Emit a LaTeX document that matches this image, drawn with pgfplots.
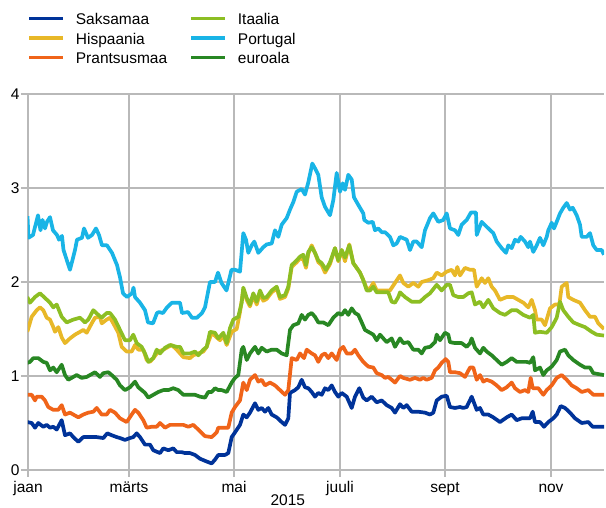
\documentclass[border=0pt]{standalone}
\usepackage{fontspec}
\setmainfont{Liberation Sans}
\usepackage{pgfplots}
\pgfplotsset{compat=1.18}
\definecolor{saks}{RGB}{0,51,153}
\definecolor{hisp}{RGB}{232,184,40}
\definecolor{pran}{RGB}{240,100,25}
\definecolor{ital}{RGB}{140,190,35}
\definecolor{port}{RGB}{25,180,230}
\definecolor{euro}{RGB}{40,135,35}
\definecolor{gridgray}{RGB}{185,185,185}
\begin{document}
\begin{tikzpicture}[font=\fontsize{15.5}{18}\selectfont]
\begin{axis}[
  at={(0,0)}, anchor=south west,
  scale only axis, width=576pt, height=376pt,
  xmin=28, xmax=604, ymin=0, ymax=4,
  axis x line*=bottom, axis y line*=left,
  axis line style={-, gridgray, line width=1.3pt},
  xtick={28,129,234,340,445,551},
  xticklabels={jaan,märts,mai,juuli,sept,nov},
  ytick={0,1,2,3,4},
  grid=major,
  major grid style={gridgray, line width=1.3pt},
  tick align=outside, major tick length=7pt,
  tick style={gridgray, line width=1.3pt},
  /pgf/number format/assume math mode=true,
  tick label style={font=\fontsize{15.5}{18}\selectfont},
  xticklabel style={anchor=base, yshift=-16pt},
  yticklabel style={xshift=2pt},
  xlabel={2015},
  xlabel style={at={(axis description cs:0.451,0)}, anchor=base, yshift=-36pt},
  every axis plot/.append style={line width=3.7pt, line join=round},
  legend columns=3, transpose legend,
  legend cell align=left,
  legend image code/.code={\draw[#1] (0pt,4.5pt) -- (34pt,4.5pt);},
  legend style={at={(axis description cs:0,1)}, anchor=south west,
    xshift=-1pt, yshift=22pt, draw=none, fill=none, inner sep=0pt,
    row sep=0pt,
    nodes={inner sep=0pt, text height=11.5pt, text depth=8pt},
    /tikz/every odd column/.append style={column sep=11pt},
    /tikz/every even column/.append style={column sep=22pt},
    font=\fontsize{15.5}{18}\selectfont},
]
% Saksamaa
\addplot[saks] coordinates {(27.3,0.51)(31.7,0.50)(35,0.45)(38.3,0.50)(43.3,0.46)(46.7,0.48)(50,0.45)(53.3,0.46)(56.7,0.43)(61.7,0.53)(65,0.37)(70,0.39)(73.3,0.35)(78.3,0.30)(83.3,0.35)(88.3,0.35)(96.7,0.35)(103.3,0.34)(107.3,0.39)(111.7,0.37)(116.7,0.35)(120,0.34)(125,0.32)(130,0.34)(133.3,0.35)(136.7,0.39)(140,0.35)(145,0.27)(150,0.27)(153.3,0.21)(160,0.18)(163.3,0.23)(168.3,0.21)(173.3,0.23)(176.7,0.19)(181.7,0.19)(185,0.18)(190,0.18)(195,0.16)(200,0.12)(206.7,0.09)(211.7,0.07)(215,0.11)(218.3,0.16)(225,0.16)(228.3,0.18)(231.7,0.35)(235,0.40)(240,0.48)(243.3,0.59)(246.7,0.56)(250,0.61)(255,0.71)(258.3,0.64)(261.7,0.66)(265,0.62)(268.3,0.66)(271.7,0.59)(276.7,0.56)(281.7,0.51)(285,0.48)(288.3,0.55)(290,0.82)(295,0.85)(298.3,0.88)(301.7,0.96)(305,0.88)(308.3,0.87)(311.7,0.83)(315,0.78)(318.3,0.82)(321.7,0.80)(325,0.87)(328.3,0.85)(331.7,0.90)(335,0.83)(338.3,0.78)(341.7,0.82)(346.7,0.78)(351.7,0.66)(355,0.78)(359.3,0.87)(363.3,0.77)(366.7,0.74)(371.7,0.78)(376.7,0.72)(381.7,0.74)(386.7,0.69)(391.7,0.66)(395,0.61)(400,0.70)(403.3,0.66)(406.7,0.69)(411.7,0.62)(418.3,0.62)(425,0.61)(430,0.59)(433.3,0.61)(436.7,0.74)(441.7,0.78)(446.7,0.79)(450,0.67)(455,0.66)(460,0.67)(463.3,0.66)(466.7,0.67)(471.7,0.78)(476.7,0.64)(480,0.66)(483.3,0.59)(488.3,0.59)(493.3,0.56)(500,0.51)(506.7,0.56)(511.7,0.59)(516.7,0.53)(521.7,0.55)(526.7,0.55)(530,0.55)(532.7,0.62)(535,0.51)(540,0.51)(544,0.46)(548.3,0.51)(553.3,0.55)(556.7,0.59)(560.7,0.68)(565,0.66)(570,0.61)(575,0.55)(581.7,0.50)(588.3,0.51)(592.7,0.46)(604,0.46)};
\addlegendentry{Saksamaa}
% Hispaania
\addplot[hisp] coordinates {(27.3,1.47)(31.7,1.63)(36.7,1.70)(40,1.73)(43.3,1.70)(46.7,1.62)(50,1.60)(53.3,1.52)(55,1.47)(58.3,1.52)(61.7,1.41)(65,1.35)(70,1.40)(75,1.44)(80,1.47)(83.3,1.49)(86.7,1.46)(91.7,1.56)(95,1.62)(100,1.63)(101.7,1.56)(106.7,1.60)(110,1.62)(113.3,1.56)(118.3,1.46)(121.7,1.31)(126.7,1.26)(131.7,1.26)(135,1.33)(138.3,1.28)(143.3,1.28)(146.7,1.17)(150,1.15)(153.3,1.19)(158.3,1.26)(163.3,1.28)(168.3,1.31)(171.7,1.33)(176.7,1.28)(183.3,1.20)(190,1.19)(193.3,1.22)(198.3,1.24)(203.3,1.26)(206.7,1.31)(211.7,1.46)(216.7,1.41)(220,1.38)(223.3,1.43)(226.7,1.33)(231.7,1.47)(236.7,1.50)(240,1.68)(243.3,1.92)(246.7,1.81)(250,1.74)(253.3,1.86)(256.7,1.76)(260,1.88)(263.3,1.80)(266.7,1.82)(271.7,1.89)(276.7,1.93)(280,1.82)(285,1.84)(288.3,1.93)(291.7,2.16)(296.7,2.21)(300,2.25)(303.3,2.24)(306,2.15)(308.3,2.30)(311.7,2.39)(315,2.31)(318.3,2.21)(321.7,2.18)(325,2.10)(330,2.19)(335,2.36)(338.3,2.22)(341.7,2.34)(345,2.22)(349.3,2.40)(353.3,2.20)(356.7,2.15)(360,2.10)(363.3,2.02)(366.7,1.93)(370,1.93)(373.3,1.99)(376.7,1.91)(381.7,1.91)(388.3,1.91)(390,1.91)(395,1.99)(400,2.07)(403.3,1.99)(408.3,1.95)(413.3,1.99)(418.3,1.95)(421.7,2.00)(428.3,2.02)(433.3,2.04)(436.7,2.10)(441.7,2.07)(446.7,2.11)(451.7,2.13)(455,2.07)(457.3,2.16)(460,2.07)(465,2.15)(470,2.13)(474,2.13)(476.7,1.95)(481.7,2.04)(485,1.99)(488.3,2.04)(491.7,1.95)(495,1.91)(500,1.81)(506.7,1.84)(513.3,1.84)(518.3,1.81)(523.3,1.78)(528.3,1.73)(531.7,1.81)(535,1.70)(536.7,1.60)(541.7,1.60)(545,1.54)(550,1.72)(555,1.76)(559.3,1.76)(561.7,1.95)(566.7,1.99)(568.3,1.84)(573.3,1.81)(580,1.78)(585,1.70)(590,1.63)(595,1.63)(598.3,1.56)(604,1.50)};
\addlegendentry{Hispaania}
% Prantsusmaa
\addplot[pran] coordinates {(27.3,0.80)(31.7,0.80)(35,0.74)(36.7,0.78)(41.7,0.78)(45,0.74)(48.3,0.67)(53.3,0.64)(58.3,0.64)(61.7,0.69)(65,0.59)(70,0.61)(73.3,0.59)(78.3,0.56)(83.3,0.59)(88.3,0.61)(93.3,0.62)(96.7,0.66)(101.7,0.59)(106.7,0.59)(110,0.64)(115,0.61)(120,0.55)(126.7,0.51)(131.7,0.59)(135,0.64)(138.3,0.61)(143.3,0.53)(146.7,0.45)(151.7,0.46)(156.7,0.46)(160,0.50)(165,0.45)(170,0.48)(176.7,0.48)(183.3,0.48)(188.3,0.46)(193.3,0.48)(198.3,0.43)(205,0.36)(211.7,0.35)(216.7,0.40)(218.3,0.45)(225,0.45)(228.3,0.45)(231.7,0.61)(235,0.67)(240,0.74)(243.3,0.93)(246.7,0.85)(250,0.96)(255,1.01)(258.3,0.94)(261.7,0.96)(265,0.90)(270,0.93)(275,0.90)(280,0.85)(285,0.80)(288.3,0.85)(291.7,1.19)(296.7,1.17)(300,1.24)(304,1.19)(306.7,1.28)(311.7,1.24)(315,1.22)(318.3,1.15)(321.7,1.22)(325,1.24)(328.3,1.19)(331.7,1.24)(336.7,1.17)(340,1.28)(343.3,1.31)(346.7,1.24)(351.7,1.24)(355,1.28)(358.3,1.22)(363.3,1.15)(368.3,1.10)(373.3,1.09)(376.7,1.03)(381.7,1.01)(385,0.98)(388.3,0.99)(391.7,0.96)(395,0.93)(400,1.00)(403.3,0.98)(410,0.96)(415,0.98)(420,0.96)(423.3,0.98)(426.7,0.96)(431.7,0.98)(435,1.06)(438.3,1.09)(441.7,1.14)(445.7,1.18)(448.3,1.15)(450,1.04)(455,1.04)(460,1.03)(465,0.99)(470,1.09)(473.3,1.09)(476.7,0.96)(480,1.01)(483.3,0.94)(486.7,0.96)(491.7,0.94)(496.7,0.90)(501.7,0.85)(506.7,0.88)(511.7,0.93)(515,0.87)(520,0.83)(525,0.85)(528.3,0.83)(530.7,0.98)(532.7,0.87)(538.3,0.87)(543.3,0.80)(546.7,0.85)(551.7,0.90)(556.7,0.98)(561.7,1.01)(566.7,0.96)(571.7,0.90)(576.7,0.87)(581.7,0.83)(588.3,0.85)(593.3,0.80)(604,0.80)};
\addlegendentry{Prantsusmaa}
% Itaalia
\addplot[ital] coordinates {(27.3,1.84)(30,1.78)(35,1.84)(40,1.88)(45,1.83)(50,1.78)(53.3,1.73)(56.7,1.76)(61.7,1.63)(66.7,1.57)(73.3,1.60)(80,1.62)(85,1.57)(88.3,1.60)(93.3,1.70)(98.3,1.65)(101.7,1.62)(106.7,1.67)(110,1.67)(115,1.60)(120,1.49)(125,1.38)(130,1.38)(133.3,1.44)(136.7,1.35)(141.7,1.31)(145,1.24)(148.3,1.15)(153.3,1.19)(156.7,1.28)(160,1.24)(165,1.30)(170,1.33)(176.7,1.31)(180,1.31)(183.3,1.24)(190,1.24)(195,1.26)(198.3,1.22)(203.3,1.28)(206.7,1.31)(210,1.47)(215,1.46)(218.3,1.40)(223.3,1.46)(226.7,1.35)(230,1.51)(233.3,1.60)(238.3,1.63)(241.7,1.78)(243.3,1.94)(246.7,1.83)(250,1.76)(253.3,1.88)(256.7,1.79)(260,1.91)(263.3,1.83)(266.7,1.84)(271.7,1.91)(276.7,1.95)(280,1.84)(285,1.86)(288.3,1.95)(291.7,2.18)(296.7,2.23)(300,2.27)(303.3,2.29)(306,2.18)(308.3,2.32)(311.7,2.37)(315,2.31)(318.3,2.23)(321.7,2.20)(326,2.13)(330,2.21)(335,2.36)(338.3,2.23)(341.7,2.34)(345,2.26)(349.3,2.39)(353.3,2.20)(356.7,2.15)(360,2.10)(363.3,2.02)(366.7,1.91)(370,1.91)(373.3,1.95)(376.7,1.89)(381.7,1.89)(388.3,1.89)(391.7,1.79)(395,1.78)(398.3,1.84)(400,1.89)(405,1.84)(411.7,1.79)(420,1.79)(425,1.84)(430,1.88)(436.7,1.97)(441.7,1.91)(446.7,1.97)(450,1.97)(453.3,1.86)(458.3,1.84)(463.3,1.84)(468.3,1.88)(471.7,1.89)(475,1.76)(480,1.79)(483.3,1.73)(488.3,1.81)(493.3,1.72)(500,1.67)(505,1.65)(511.7,1.70)(516.7,1.70)(523.3,1.65)(530,1.62)(533.3,1.65)(535,1.46)(540,1.47)(546.7,1.46)(551.7,1.52)(556.7,1.62)(560,1.79)(563.3,1.70)(568.3,1.63)(573.3,1.57)(580,1.54)(585,1.52)(591.7,1.47)(596.7,1.44)(604,1.43)};
\addlegendentry{Itaalia}
% Portugal
\addplot[port] coordinates {(27.5,2.70)(28.5,2.47)(33,2.50)(38,2.71)(40.5,2.55)(42.5,2.66)(45,2.57)(47,2.64)(50,2.69)(53,2.55)(57,2.50)(59,2.45)(62,2.49)(63.5,2.34)(70,2.13)(75,2.34)(77,2.45)(82,2.47)(84,2.57)(88,2.47)(92,2.50)(96,2.57)(99,2.50)(102,2.39)(107,2.39)(112,2.31)(117,2.18)(120,2.05)(123,1.88)(127,1.84)(132,1.88)(133.5,1.94)(135,1.84)(140,1.78)(145,1.70)(148,1.57)(153,1.56)(157,1.67)(159,1.68)(163,1.67)(167,1.73)(172,1.78)(180,1.78)(182,1.67)(188,1.68)(192,1.62)(197,1.62)(202,1.67)(205,1.73)(210,2.00)(215,2.00)(218,2.10)(221.5,1.99)(226.5,1.91)(231.5,2.13)(235,2.13)(240,2.11)(243.3,2.52)(246,2.45)(248.3,2.31)(251.7,2.39)(254.3,2.43)(258.3,2.31)(263.3,2.37)(266.7,2.40)(271.7,2.41)(275,2.55)(278.3,2.48)(281.7,2.61)(286.7,2.68)(290,2.77)(293.3,2.85)(296.7,2.96)(301.7,2.99)(305,2.93)(308.3,3.06)(312.3,3.26)(316,3.19)(318.3,3.14)(321.7,2.90)(325,2.80)(330,2.71)(333.3,2.87)(336.7,3.16)(340,2.96)(342.7,3.05)(345,2.98)(348.3,3.14)(351.7,3.09)(354,2.90)(358.3,2.82)(363.3,2.73)(364.3,2.66)(368.3,2.63)(372.7,2.64)(375,2.55)(378.3,2.57)(381.7,2.53)(385,2.53)(390,2.48)(393.3,2.39)(396.7,2.41)(400,2.48)(406.7,2.45)(410,2.34)(413.3,2.43)(416.7,2.43)(421.7,2.37)(425,2.55)(430,2.68)(433.3,2.73)(438.3,2.64)(443.3,2.66)(446.7,2.73)(450,2.57)(455,2.55)(458.3,2.50)(461.7,2.61)(466.7,2.66)(471,2.74)(476,2.74)(476.7,2.50)(481.7,2.64)(488.3,2.57)(493.3,2.52)(496.7,2.43)(501.7,2.36)(506,2.31)(508.3,2.39)(511.7,2.36)(515,2.45)(518.3,2.43)(520.7,2.48)(525,2.43)(528.3,2.37)(530,2.43)(533.3,2.32)(536.7,2.39)(540,2.47)(543.3,2.39)(546.7,2.48)(548.3,2.55)(551.7,2.63)(554,2.57)(556.7,2.64)(560,2.73)(563.3,2.79)(566.7,2.84)(570,2.77)(572.7,2.79)(576.7,2.71)(580,2.61)(581.7,2.48)(586.7,2.48)(590,2.52)(593.3,2.39)(596.7,2.34)(601.7,2.34)(604,2.29)};
\addlegendentry{Portugal}
% euroala
\addplot[euro] coordinates {(27.3,1.14)(30,1.15)(33.3,1.19)(38.3,1.19)(43.3,1.15)(46.7,1.14)(50,1.06)(53.3,1.09)(56.7,1.04)(61.7,1.12)(65,1.01)(68.3,0.96)(73.3,0.99)(76.7,1.01)(81.7,0.98)(86.7,0.99)(90,1.01)(95,1.04)(100,0.99)(103.3,1.03)(108.3,1.04)(111.7,1.01)(116.7,0.96)(120,0.90)(125,0.85)(130,0.88)(135,0.94)(138.3,0.88)(141.7,0.85)(145,0.82)(148.3,0.77)(153.3,0.80)(158.3,0.83)(163.3,0.85)(168.3,0.85)(173.3,0.87)(178.3,0.85)(183.3,0.80)(190,0.80)(195,0.80)(200,0.78)(205,0.77)(208.3,0.83)(211.7,0.83)(215,0.87)(218.3,0.85)(221.7,0.85)(226.7,0.83)(231.7,0.93)(235,0.98)(238.3,1.01)(241.7,1.28)(243.3,1.31)(246.7,1.17)(250,1.24)(255,1.31)(258.3,1.24)(261.7,1.30)(266.7,1.26)(271.7,1.28)(276.7,1.28)(281.7,1.24)(286.7,1.22)(290,1.49)(293.3,1.54)(298.3,1.56)(301.7,1.65)(305,1.60)(308.3,1.65)(311.7,1.67)(315,1.63)(318.3,1.57)(323.3,1.57)(328.3,1.54)(333.3,1.62)(338.3,1.67)(341.7,1.65)(345,1.70)(348.3,1.65)(351.7,1.72)(355,1.67)(358.3,1.65)(361.7,1.57)(365,1.49)(370,1.46)(373.3,1.44)(376.7,1.38)(380,1.44)(383.3,1.40)(386.7,1.36)(391.7,1.40)(395,1.31)(400,1.40)(403.3,1.35)(408.3,1.36)(413.3,1.28)(418.3,1.28)(421.7,1.24)(425,1.30)(430,1.31)(435,1.36)(436.7,1.44)(440,1.38)(445,1.46)(448.3,1.44)(450,1.36)(455,1.35)(461.7,1.35)(466.7,1.31)(470,1.35)(471.7,1.40)(475,1.30)(480,1.24)(483.3,1.30)(486.7,1.26)(491.7,1.22)(496.7,1.17)(501.7,1.12)(506.7,1.15)(511.7,1.19)(516.7,1.15)(521.7,1.15)(526.7,1.15)(530,1.14)(533.3,1.20)(535,1.06)(540,1.09)(543.3,1.01)(546.7,1.06)(551.7,1.10)(556.7,1.17)(560,1.26)(565,1.28)(568.3,1.22)(573.3,1.17)(580,1.12)(585,1.09)(590,1.09)(593.3,1.03)(604,1.01)};
\addlegendentry{euroala}
\end{axis}
\pgfresetboundingbox
\path (-28pt,-38pt) rectangle (578pt,470pt);
\end{tikzpicture}
\end{document}
